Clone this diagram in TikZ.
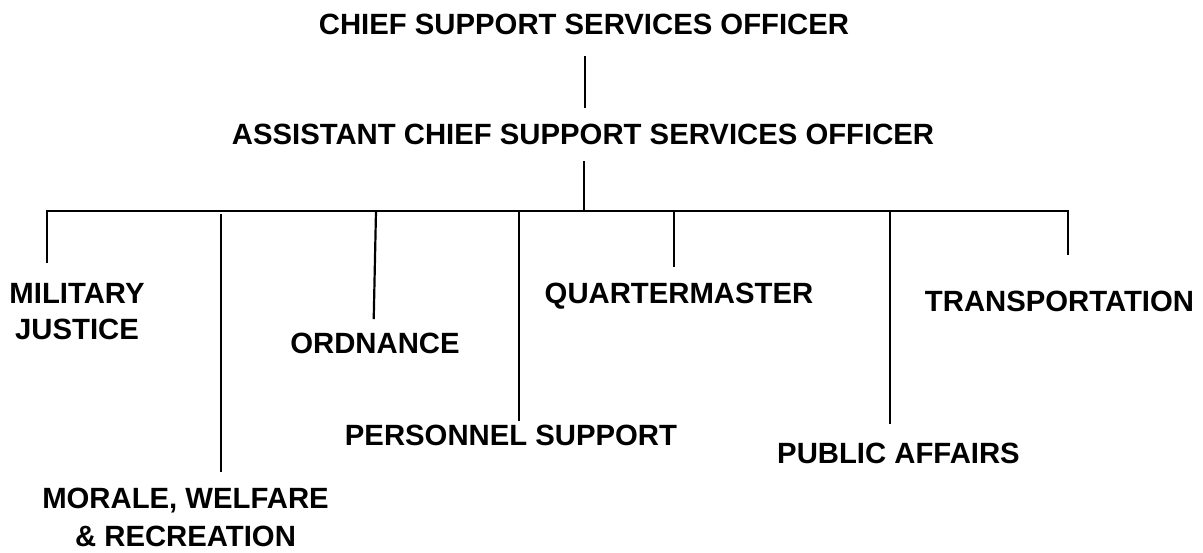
\documentclass[tikz,border=0pt]{standalone}
\usepackage{fontspec}
\setmainfont{Liberation Sans}
\usepackage{tikz}
\usepackage{xcolor}
\definecolor{ColInk}{RGB}{0,0,0}
\definecolor{ColWhite}{RGB}{255,255,255}
\tikzstyle{NodeUnit}=[inner sep=0pt,align=center,anchor=base,text=ColInk,
font=\fontsize{29.3}{36}\selectfont\bfseries]
\tikzstyle{EdgeUnit}=[draw=ColInk,line width=2.2pt,line cap=rect]

\begin{document}
\begin{tikzpicture}[x=1pt,y=-1pt]
        \useasboundingbox[fill=ColWhite](0,0)rectangle(1203,552);
        \node[NodeUnit](chief)at(584,34){CHIEF SUPPORT SERVICES OFFICER};
        \node[NodeUnit](asst)at(583,144){ASSISTANT CHIEF SUPPORT SERVICES OFFICER};
        \node[NodeUnit](mil)at(77,339){MILITARY\\JUSTICE};
        \node[NodeUnit](mwr)at(185.5,546.5){MORALE, WELFARE\\[2pt]\& RECREATION};
        \node[NodeUnit](ord)at(375,353){ORDNANCE};
        \node[NodeUnit](pers)at(511,445){PERSONNEL SUPPORT};
        \node[NodeUnit](qm)at(679,303){QUARTERMASTER};
        \node[NodeUnit](pa)at(898.5,463){PUBLIC AFFAIRS};
        \node[NodeUnit](trn)at(1059.5,311){TRANSPORTATION};
        \coordinate(tAsst)at(584,211);
        \coordinate(tMil)at(47,211);
        \coordinate(tMwr)at(221,211);
        \coordinate(tOrd)at(376,211);
        \coordinate(tPers)at(519,211);
        \coordinate(tQm)at(674,211);
        \coordinate(tPa)at(890,211);
        \coordinate(tTrn)at(1068,211);
        \draw[EdgeUnit,shorten <=23pt,shorten >=37pt]([xshift=1pt]chief.base)--([xshift=1pt]chief.base |- asst.base);
        \draw[EdgeUnit,shorten <=18pt,shorten >=2pt](asst.base -| tAsst)--(tAsst);
        \draw[EdgeUnit](tMil)--(tTrn);
        \draw[EdgeUnit,shorten >=77pt](tMil)--(tMil |- mil.base);
        \draw[EdgeUnit,shorten <=4pt,shorten >=76pt](tMwr)--(tMwr |- mwr.base);
        \draw[EdgeUnit,shorten <=2pt,shorten >=35pt](tOrd)--([xshift=-3pt]tOrd |- ord.base);
        \draw[EdgeUnit,shorten >=25pt](tPers)--(tPers |- pers.base);
        \draw[EdgeUnit,shorten >=37pt](tQm)--(tQm |- qm.base);
        \draw[EdgeUnit,shorten <=2pt,shorten >=40pt](tPa)--(tPa |- pa.base);
        \draw[EdgeUnit,shorten >=57pt](tTrn)--(tTrn |- trn.base);
    \end{tikzpicture}
\end{document}
